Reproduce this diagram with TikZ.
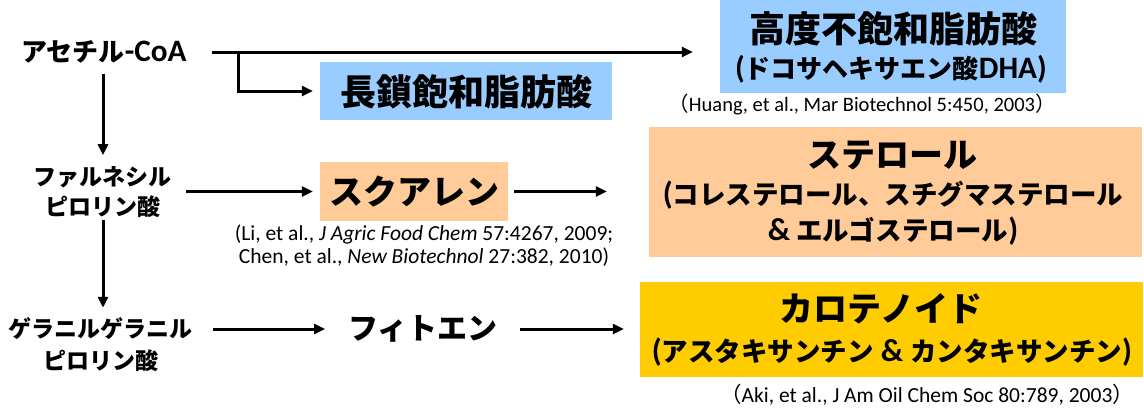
\documentclass[tikz,border=0pt]{standalone}
\usepackage{fontspec}
\usetikzlibrary{arrows.meta}
\newfontfamily\jp{Noto Sans CJK JP}
\newfontfamily\lat{Carlito}
\newfontfamily\latb[Scale=1.2]{Carlito}
\definecolor{lblue}{HTML}{99CCFF}
\definecolor{peach}{HTML}{FFCC99}
\definecolor{gold}{HTML}{FFCC00}
\newcommand{\fsz}[2]{\fontsize{#1}{#2}\selectfont}
\newcommand{\lb}[1]{{\latb\bfseries #1}}
\tikzset{
  arr/.style={line width=3pt, -{Triangle[length=11pt,width=10pt]}},
  lbl/.style={inner sep=0pt, align=center, text=black},
  boxn/.style={inner sep=0pt, draw=none},
}
\begin{document}
\begin{tikzpicture}[x=1pt,y=-1pt]
\useasboundingbox (0,0) rectangle (1144,408);
% boxes
\node[boxn, fill=lblue, minimum width=292pt, minimum height=58pt] (lc) at (466,91) {};
\node[lbl, font=\jp\bfseries\fsz{36}{40}] (lct) at (466,92) {長鎖飽和脂肪酸};
\node[boxn, fill=lblue, minimum width=346pt, minimum height=93pt] (dha) at (893,46.5) {};
\node[lbl, font=\jp\bfseries\fsz{36}{40}] (dha1) at (893,29) {高度不飽和脂肪酸};
\node[lbl, font=\jp\bfseries\fsz{26}{30}] (dha2) at (891,69) {\lb{(}ドコサヘキサエン酸\lb{DHA)}};
\node[lbl, font=\lat\fsz{20.5}{23}] (cit1) at (862,104) {{\jp （}Huang, et al., Mar Biotechnol 5:450, 2003{\jp ）}};
\node[boxn, fill=peach, minimum width=188pt, minimum height=59pt] (sq) at (414,191.5) {};
\node[lbl, font=\jp\bfseries\fsz{34}{40}] (sqt) at (414,192) {スクアレン};
\node[lbl, font=\lat\fsz{21.5}{23}] (cit2) at (424,246) {(Li, et al., \textit{J Agric Food Chem} 57:4267, 2009;\\Chen, et al., \textit{New Biotechnol} 27:382, 2010)};
\node[boxn, fill=peach, minimum width=493pt, minimum height=130pt] (st) at (895.5,192) {};
\node[lbl, font=\jp\bfseries\fsz{34}{40}] (st1) at (892,155) {ステロール};
\node[lbl, font=\jp\bfseries\fsz{26.5}{30}] (st2) at (893,195) {\lb{(}コレステロール、スチグマステロール};
\node[lbl, font=\jp\bfseries\fsz{26.5}{30}] (st3) at (893,231) {\lb{\&} エルゴステロール\lb{)}};
\node[boxn, fill=gold, minimum width=503pt, minimum height=95pt] (car) at (891.5,329.5) {};
\node[lbl, font=\jp\bfseries\fsz{34}{40}] (car1) at (881,309) {カロテノイド};
\node[lbl, font=\jp\bfseries\fsz{26.5}{30}] (car2) at (892,352) {\lb{(}アスタキサンチン\hspace{7pt}\lb{\&}\hspace{7pt}カンタキサンチン\lb{)}};
\node[lbl, font=\lat\fsz{21.5}{23}] (cit3) at (927,395) {{\jp （}Aki, et al., J Am Oil Chem Soc 80:789, 2003{\jp ）}};
% left column
\node[lbl, font=\jp\bfseries\fsz{26}{30}] (acetyl) at (104,52) {アセチル\lb{-CoA}};
\node[lbl, font=\jp\bfseries\fsz{23}{30}] (farn) at (103,192) {ファルネシル\\ピロリン酸};
\node[lbl, font=\jp\bfseries\fsz{23}{32}] (ger) at (101,345) {ゲラニルゲラニル\\ピロリン酸};
\node[lbl, font=\jp\bfseries\fsz{30}{40}] (phy) at (423,329) {フィトエン};
% connectors
\coordinate (br) at (238,51);
\draw[arr, shorten <=25pt, shorten >=27pt] (acetyl.east) -- (acetyl.east -| dha.west);
\draw[arr, shorten >=7pt] (br) |- (lc.west);
\draw[arr, shorten <=10pt, shorten >=11pt] (acetyl.south -| farn.north) -- (farn.north);
\draw[arr, shorten <=14pt, shorten >=7pt] (farn.east |- sq.west) -- (sq.west);
\draw[arr, shorten <=6pt, shorten >=42pt] (sq.east) -- (sq.east -| st.west);
\draw[arr, shorten <=2pt, shorten >=10pt] (farn.south) -- (farn.south |- ger.north);
\draw[arr, shorten <=20pt, shorten >=23pt] (ger.east |- phy.west) -- (phy.west);
\draw[arr, shorten <=22pt, shorten >=16pt] (phy.east) -- (phy.east -| car.west);
\end{tikzpicture}
\end{document}
